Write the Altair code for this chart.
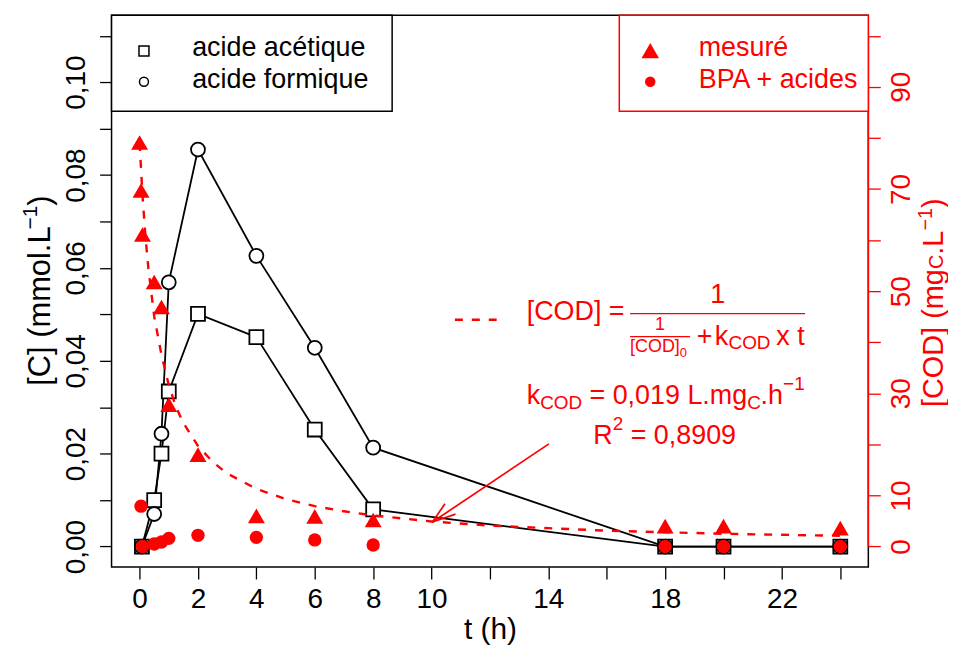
import altair as alt
import pandas as pd

FONT = "Liberation Sans"
RED = "#FF0000"

# ---------------- data ----------------
t_acid = [0.08, 0.5, 0.75, 1, 2, 4, 6, 8, 18, 20, 24]
acetic = [0.0, 0.0100, 0.0200, 0.0334, 0.0501, 0.0451, 0.0252, 0.0080, 0.0, 0.0, 0.0]
formic = [0.0, 0.0070, 0.0243, 0.0569, 0.0855, 0.0626, 0.0428, 0.0213, 0.0, 0.0, 0.0]

t_meas = [0, 0.05, 0.1, 0.5, 0.75, 1, 2, 4, 6, 8, 18, 20, 24]
cod_meas = [79.1, 69.7, 61.1, 51.8, 46.9, 27.8, 18.0, 6.0, 5.9, 5.2, 4.0, 4.0, 3.6]

t_bpa = [0.05, 0.1, 0.5, 0.75, 1, 2, 4, 6, 8, 18, 20, 24]
cod_bpa = [7.9, 0.0, 0.5, 0.9, 1.6, 2.2, 1.8, 1.3, 0.3, 0.0, 0.0, 0.0]

t_fit = [0, 0.1, 0.2, 0.3, 0.5, 0.75, 1, 1.25, 1.5, 2, 2.5, 3, 4, 5, 6, 7, 8,
         10, 12, 14, 16, 18, 20, 22, 24]
cod_fit = [79.0, 68.7, 60.8, 54.5, 45.1, 37.5, 31.6, 27.3, 24.2, 19.7, 16.6, 14.3,
           11.3, 9.3, 7.9, 6.9, 6.1, 4.9, 4.1, 3.6, 3.1, 2.8, 2.5, 2.3, 2.1]

x_ticks = list(range(0, 25, 2))
x_labels = [0, 2, 4, 6, 8, 10, 14, 18, 22]
left_ticks = [round(0.01 * i, 2) for i in range(12)]
right_ticks = list(range(0, 101, 10))
right_labels = [0, 10, 30, 50, 70, 90]

legend_left = ["acide acétique", "acide formique"]
legend_right = ["mesuré", "BPA + acides"]

# ---------------- scales & axes ----------------
xscale = alt.Scale(domain=[-0.96, 24.96], nice=False, zero=False)
yl_scale = alt.Scale(domain=[-0.0044, 0.1144], nice=False, zero=False)
yr_scale = alt.Scale(domain=[-4, 104], nice=False, zero=False)

xaxis = alt.Axis(
    values=x_ticks,
    labelExpr="indexof(%s, datum.value) >= 0 ? datum.label : ''" % str(x_labels),
    title="t (h)", domain=False, grid=False, tickSize=12, tickWidth=1.3,
    tickColor="black", labelFontSize=28, labelPadding=7, labelColor="black",
    labelFlush=False, labelOverlap=False, titleFontSize=30,
    titleFontWeight="normal", titleColor="black", titleBaseline="alphabetic",
    titleY=72)

laxis = alt.Axis(
    orient="left", values=left_ticks,
    labelExpr="round(datum.value*100) % 2 == 0 ? replace(format(datum.value, '.2f'), '.', ',') : ''",
    title=None, domain=False, grid=False, tickSize=12, tickWidth=1.3,
    tickColor="black", labelAngle=270, labelAlign="center", labelBaseline="bottom",
    labelPadding=9, labelFontSize=28, labelColor="black", labelFlush=False,
    labelOverlap=False)

raxis = alt.Axis(
    orient="right", values=right_ticks,
    labelExpr="indexof(%s, datum.value) >= 0 ? datum.label : ''" % str(right_labels),
    title=None, domain=False, grid=False, tickSize=12, tickWidth=1.3,
    tickColor=RED, labelAngle=270, labelAlign="center", labelBaseline="top",
    labelPadding=7, labelFontSize=28, labelColor=RED, labelFlush=False,
    labelOverlap=False)


def X(field="t"):
    return alt.X(field + ":Q", scale=xscale, axis=xaxis)


def YL(field="c"):
    return alt.Y(field + ":Q", scale=yl_scale, axis=laxis)


def Y(field="cod"):
    return alt.Y(field + ":Q", scale=yr_scale, axis=raxis)


# ---------------- black (left axis) layer ----------------
n = len(t_acid)
acid_df = pd.DataFrame({
    "t": t_acid + t_acid,
    "c": acetic + formic,
    "serie": [legend_left[0]] * n + [legend_left[1]] * n,
    "shape": ["square"] * n + ["circle"] * n,
})

acid_lines = alt.Chart(acid_df).mark_line(color="black", strokeWidth=1.8).encode(
    x=X(), y=YL(), detail="serie:N")
acid_pts = alt.Chart(acid_df).mark_point(
    filled=True, fill="white", stroke="black", strokeWidth=1.8, size=196,
    opacity=1).encode(x=X(), y=YL(), shape=alt.Shape("shape:N", scale=None))

black_layer = alt.layer(acid_lines, acid_pts)

# ---------------- red (right axis) layer ----------------
fit_df = pd.DataFrame({"t": t_fit, "cod": cod_fit})
fit_line = alt.Chart(fit_df).mark_line(
    color=RED, strokeWidth=2.4, strokeDash=[8, 9]).encode(x=X(), y=Y())

meas_df = pd.DataFrame({"t": t_meas, "cod": cod_meas})
meas_pts = alt.Chart(meas_df).mark_point(
    shape="triangle-up", filled=True, color=RED, size=289, opacity=1).encode(
    x=X(), y=Y())

bpa_df = pd.DataFrame({"t": t_bpa, "cod": cod_bpa})
bpa_pts = alt.Chart(bpa_df).mark_point(
    shape="circle", filled=True, color=RED, size=180, opacity=1).encode(
    x=X(), y=Y())

# red axis line (0 -> 100)
axis_line = alt.Chart(pd.DataFrame({"t": [24.96], "cod": [0], "cod2": [100]})).mark_rule(
    color=RED, strokeWidth=1.5).encode(x=X(), y=Y(), y2="cod2:Q")

# annotation segments: fraction bars + arrow
seg_df = pd.DataFrame({
    "t":    [16.80, 16.80, 14.02, 10.03, 10.03],
    "t2":   [22.79, 18.85, 10.03, 10.82, 10.46],
    "cod":  [45.6, 41.1, 20.1, 4.8, 4.8],
    "cod2": [45.6, 41.1, 4.8, 6.34, 8.38],
    "w":    [1.5, 1.1, 1.7, 1.7, 1.7],
})
segs = alt.Chart(seg_df).mark_rule(color=RED).encode(
    x=X(), x2="t2:Q", y=Y(), y2="cod2:Q",
    strokeWidth=alt.StrokeWidth("w:Q", scale=None))

dash_df = pd.DataFrame({"t": [10.80], "t2": [12.23], "cod": [44.4]})
dash_sample = alt.Chart(dash_df).mark_rule(
    color=RED, strokeWidth=2.4, strokeDash=[8, 9]).encode(x=X(), x2="t2:Q", y=Y())

# legend boxes
box_df = pd.DataFrame({
    "t": [-0.96, 16.43], "t2": [8.65, 24.96],
    "cod": [85.24, 85.24], "cod2": [104, 104],
    "sc": ["black", RED],
})
boxes = alt.Chart(box_df).mark_rect(fill="white", strokeWidth=1.5).encode(
    x=X(), x2="t2:Q", y=Y(), y2="cod2:Q", stroke=alt.Stroke("sc:N", scale=None))

leg_pts_df = pd.DataFrame({
    "t": [0.15, 0.15, 17.49, 17.49],
    "cod": [97.0, 91.0, 97.0, 91.0],
    "shape": ["square", "circle", "triangle-up", "circle"],
    "fill": ["white", "white", RED, RED],
    "stroke": ["black", "black", RED, RED],
    "size": [100, 81, 225, 81],
})
leg_pts = alt.Chart(leg_pts_df).mark_point(strokeWidth=1.5, opacity=1).encode(
    x=X(), y=Y(),
    shape=alt.Shape("shape:N", scale=None),
    fill=alt.Fill("fill:N", scale=None),
    stroke=alt.Stroke("stroke:N", scale=None),
    size=alt.Size("size:Q", scale=None))

# left-aligned text pieces
txt_df = pd.DataFrame([
    (1.80, 97.6, legend_left[0], 27, "black"),
    (1.80, 91.4, legend_left[1], 27, "black"),
    (19.15, 97.6, legend_right[0], 27, RED),
    (19.15, 91.4, legend_right[1], 27, RED),
    (13.26, 46.0, "[COD] =", 27, RED),
    (16.80, 39.0, "[COD]", 18, RED),
    (18.50, 37.8, "0", 13, RED),
    (19.08, 41.1, "+", 27, RED),
    (19.70, 41.1, "k", 27, RED),
    (20.17, 39.8, "COD", 19, RED),
    (21.81, 41.1, "x t", 27, RED),
    (13.26, 29.4, "k", 27, RED),
    (13.72, 28.1, "COD", 19, RED),
    (15.41, 29.4, "= 0,019 L.mg", 27, RED),
    (20.81, 28.1, "C", 19, RED),
    (21.27, 29.4, ".h", 27, RED),
    (22.04, 31.8, "\u22121", 19, RED),
    (15.54, 21.6, "R", 27, RED),
    (16.21, 24.0, "2", 19, RED),
    (16.82, 21.6, "= 0,8909", 27, RED),
], columns=["t", "cod", "txt", "fs", "col"])
texts = alt.Chart(txt_df).mark_text(align="left", baseline="middle", font=FONT).encode(
    x=X(), y=Y(), text="txt:N",
    size=alt.Size("fs:Q", scale=None), color=alt.Color("col:N", scale=None))

ctxt_df = pd.DataFrame([
    (19.80, 49.3, "1", 27),
    (17.82, 43.3, "1", 18),
], columns=["t", "cod", "txt", "fs"])
ctexts = alt.Chart(ctxt_df).mark_text(align="center", baseline="middle", font=FONT,
                                      color=RED).encode(
    x=X(), y=Y(), text="txt:N", size=alt.Size("fs:Q", scale=None))

# rotated axis titles
rot_df = pd.DataFrame([
    (-3.37, 31.46, "[C] (mmol.L", 31, "black"),
    (-3.71, 62.09, "\u22121", 21, "black"),
    (-3.37, 66.74, ")", 31, "black"),
    (27.22, 27.31, "[COD] (mg", 29, RED),
    (27.32, 54.33, "C", 20, RED),
    (27.22, 57.13, ".L", 29, RED),
    (26.92, 61.85, "\u22121", 20, RED),
    (27.22, 66.30, ")", 29, RED),
], columns=["t", "cod", "txt", "fs", "col"])
rot_texts = alt.Chart(rot_df).mark_text(align="left", baseline="middle", angle=270,
                                        font=FONT).encode(
    x=X(), y=Y(), text="txt:N",
    size=alt.Size("fs:Q", scale=None), color=alt.Color("col:N", scale=None))

red_layer = alt.layer(fit_line, meas_pts, bpa_pts, axis_line, segs, dash_sample,
                      boxes, leg_pts, texts, ctexts, rot_texts)

chart = alt.layer(black_layer, red_layer).resolve_scale(y="independent").properties(
    width=760, height=554,
    autosize=alt.AutoSizeParams(type="none"),
    padding={"left": 104, "top": 6, "right": 80, "bottom": 78},
).configure(font=FONT).configure_view(stroke="black", strokeWidth=1.5).configure_axis(
    labelFont=FONT, titleFont=FONT)

chart.save("out.html", embed_options={"renderer": "svg", "actions": False})
